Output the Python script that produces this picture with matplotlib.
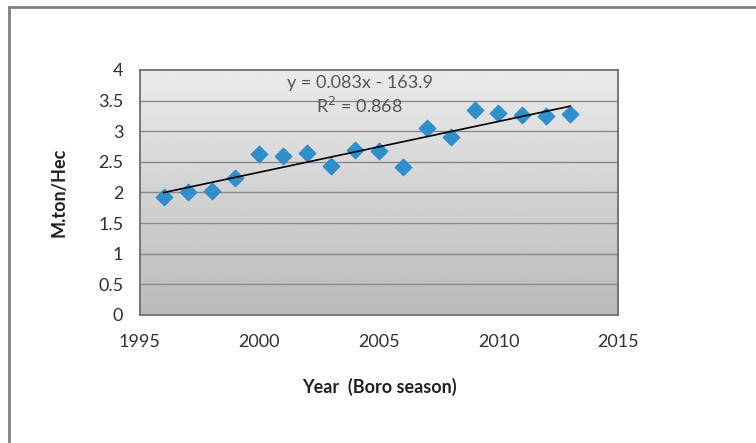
import matplotlib
matplotlib.use('Agg')
import matplotlib.pyplot as plt
import numpy as np

# Boro season yield data
years = [1996, 1997, 1998, 1999, 2000, 2001, 2002, 2003, 2004,
         2005, 2006, 2007, 2008, 2009, 2010, 2011, 2012, 2013]
yields = [1.92, 2.00, 2.03, 2.23, 2.63, 2.60, 2.64, 2.43, 2.69,
          2.67, 2.42, 3.06, 2.91, 3.34, 3.30, 3.27, 3.25, 3.28]
x_ticks = [1995, 2000, 2005, 2010, 2015]
y_ticks = [0, 0.5, 1, 1.5, 2, 2.5, 3, 3.5, 4]
eq_text = 'y = 0.083x - 163.9'
r2_text = 'R$^2$ = 0.868'

plt.rcParams['font.family'] = ['Lato', 'DejaVu Sans']

fig = plt.figure(figsize=(7.56, 4.43), dpi=100, facecolor='white')

# outer frame (left and top edges)
fig.add_artist(plt.Line2D([0.0125, 0.0125], [0, 0.985], transform=fig.transFigure,
                          color='#808080', lw=2))
fig.add_artist(plt.Line2D([0.0125, 1.0], [0.984, 0.984], transform=fig.transFigure,
                          color='#808080', lw=2))

ax = fig.add_axes([0.185, 0.289, 0.6325, 0.553])
ax.set_xlim(1995, 2015)
ax.set_ylim(0, 4)

# gradient background, lighter at the top
grad = np.linspace(0.73, 0.92, 256).reshape(-1, 1)
ax.imshow(grad, extent=[1995, 2015, 0, 4], aspect='auto', origin='lower',
          cmap='gray', vmin=0, vmax=1, zorder=0)

for y in y_ticks[1:-1]:
    ax.axhline(y, color='#8a8a8a', lw=1, zorder=1)

ax.scatter(years, yields, marker='D', s=70, color='#2f8fcc', zorder=3)

# linear trend line
coef = np.polyfit(years, yields, 1)
xs = np.array([years[0], years[-1]])
ax.plot(xs, np.polyval(coef, xs), color='black', lw=1.2, zorder=4)

ax.text(2004.2, 3.78, eq_text, ha='center', va='center', fontsize=13, color='#555555', zorder=5)
ax.text(2004.2, 3.42, r2_text, ha='center', va='center', fontsize=13, color='#555555', zorder=5)

ax.set_xticks(x_ticks)
ax.set_yticks(y_ticks)
ax.set_yticklabels(['0', '0.5', '1', '1.5', '2', '2.5', '3', '3.5', '4'])
ax.tick_params(length=0, labelsize=13, colors='#303030', pad=14)
ax.tick_params(axis='y', pad=12)

for s in ax.spines.values():
    s.set_color('#6e6e6e')
    s.set_linewidth(1.3)

ax.set_xlabel('Year  (Boro season)', fontsize=13, fontweight='bold', color='#202020', labelpad=20)
ax.set_ylabel('M.ton/Hec', fontsize=13, fontweight='bold', color='#202020', labelpad=22)

fig.savefig('out.png', dpi=100, facecolor='white')
